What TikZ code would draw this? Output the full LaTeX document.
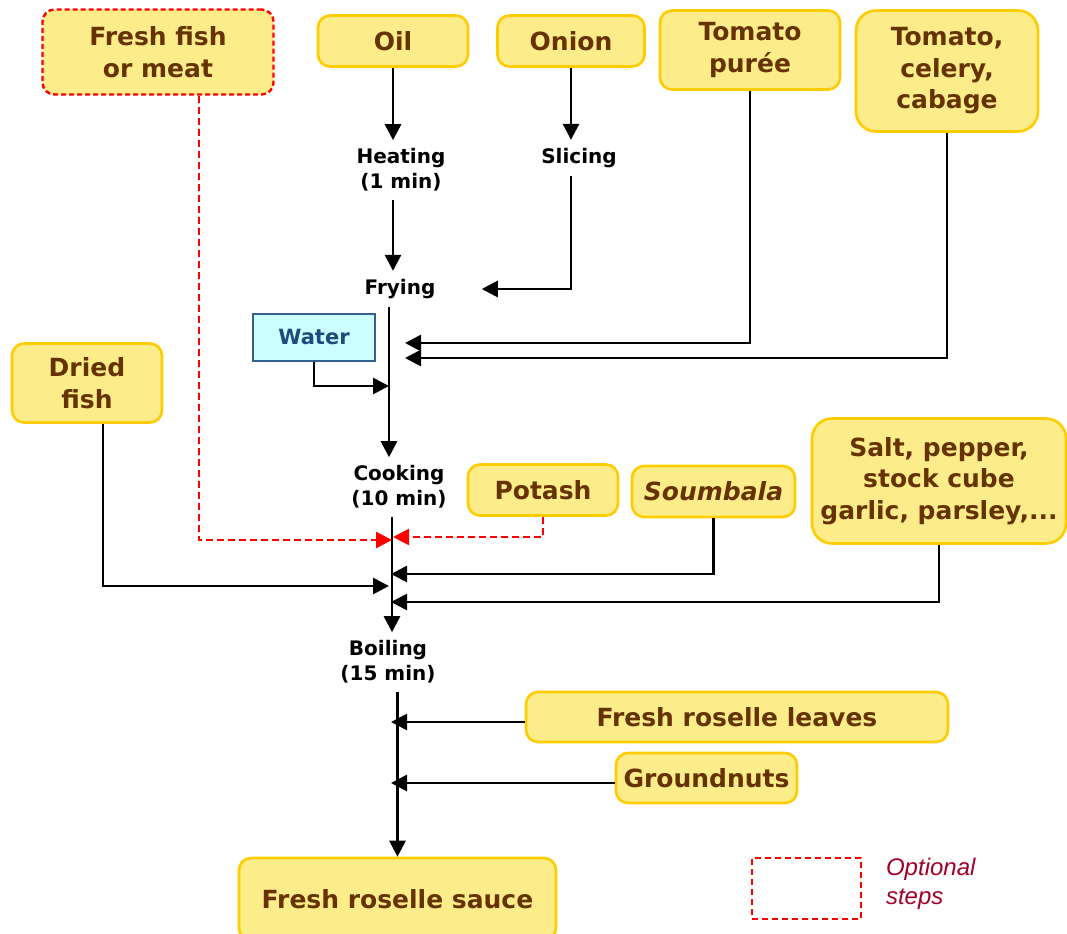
\documentclass[tikz,border=0pt]{standalone}
\usepackage{fontspec}
\setmainfont{DejaVu Sans}
\newfontfamily\notefont{Liberation Sans}
\usetikzlibrary{arrows.meta}
\definecolor{ingfill}{RGB}{252,237,138}
\definecolor{ingline}{RGB}{255,204,0}
\definecolor{ingtext}{RGB}{102,51,0}
\definecolor{waterfill}{RGB}{204,255,255}
\definecolor{waterline}{RGB}{54,96,146}
\definecolor{watertext}{RGB}{31,73,125}
\definecolor{notered}{RGB}{160,0,40}
\begin{document}
\begin{tikzpicture}[x=0.5pt, y=-0.5pt,
    ingr/.style={draw=ingline, fill=ingfill, line width=1.3pt, rounded corners=6pt,
      text=ingtext, align=center, inner sep=2pt,
      font=\bfseries\fontsize{12.5}{15.75}\selectfont},
    optional/.style={ingr, draw=red, line width=1.2pt, dash pattern=on 2.5pt off 1.5pt},
    stage/.style={align=center, inner sep=4pt,
      font=\bfseries\fontsize{10}{12.5}\selectfont},
    flow/.style={line width=1.4pt, -{Triangle[length=8pt,width=8pt]}},
    optflow/.style={red, line width=1.2pt, dash pattern=on 3.5pt off 2pt,
      -{Triangle[length=8pt,width=8pt]}},
  ]
    \useasboundingbox (0,0) rectangle (1067,933);
    % Ingredients on top
    \node[optional, minimum width=115.5pt, minimum height=42.5pt] (fish) at (158,52) {Fresh fish\\or meat};
    \node[ingr, minimum width=75pt, minimum height=25.5pt] (oil) at (393,41) {Oil};
    \node[ingr, minimum width=73.5pt, minimum height=25.5pt] (onion) at (571,41) {Onion};
    \node[ingr, minimum width=90pt, minimum height=39.5pt] (puree) at (750,50) {Tomato\\purée};
    \node[ingr, rounded corners=10pt, minimum width=91pt, minimum height=60.5pt] (tcc) at (947,71) {Tomato,\\celery,\\cabage};
    % Steps
    \node[stage] (heat) at (401,170) {Heating\\(1 min)};
    \node[stage] (slice) at (579,158) {Slicing};
    \node[stage] (fry) at (400,289) {Frying};
    \node[stage] (cook) at (399,487) {Cooking\\(10 min)};
    \node[stage] (boil) at (388,662) {Boiling\\(15 min)};
    % Water
    \node[draw=waterline, fill=waterfill, line width=1pt, text=watertext,
      font=\bfseries\fontsize{10.5}{12}\selectfont,
      minimum width=61pt, minimum height=23.5pt] (water) at (314,337) {Water};
    % Ingredients added while cooking
    \node[ingr, minimum width=75pt, minimum height=39.5pt] (dried) at (87,383) {Dried\\fish};
    \node[ingr, minimum width=75pt, minimum height=25.5pt] (potash) at (543,490) {Potash};
    \node[ingr, minimum width=81.5pt, minimum height=25.5pt] (soum) at (713.5,491.5) {\textit{Soumbala}};
    \node[ingr, rounded corners=10pt, minimum width=127pt, minimum height=62.5pt] (salt) at (939,481) {Salt, pepper,\\stock cube\\garlic, parsley,...};
    \node[ingr, minimum width=211pt, minimum height=25pt] (leaves) at (737,717) {Fresh roselle leaves};
    \node[ingr, minimum width=90.5pt, minimum height=25pt] (ground) at (706.5,778) {Groundnuts};
    % Final product
    \node[ingr, minimum width=158.5pt, minimum height=41pt] (sauce) at (397.5,899) {Fresh roselle sauce};
    % Legend
    \node[draw=red, line width=1.1pt, dash pattern=on 3pt off 2pt,
      minimum width=54.5pt, minimum height=30.5pt] (legbox) at (806.5,888.5) {};
    \node[right, align=left, text=notered,
      font=\notefont\itshape\fontsize{12}{14.5}\selectfont] (legtext) at (879,884) {Optional\\steps};
    % Junctions on the main line
    \coordinate (jpuree) at (405,343);
    \coordinate (jtcc) at (405,358);
    \coordinate (jwater) at (389,386);
    \coordinate (jfish) at (392,540);
    \coordinate (jpotash) at (393,537);
    \coordinate (jsoum) at (391,574);
    \coordinate (jdried) at (389,586);
    \coordinate (jsalt) at (391,602);
    \coordinate (jleaves) at (391,722);
    \coordinate (jground) at (391,783);
    % Main line
    \draw[flow] (oil.south) -- (oil.south |- heat.north);
    \draw[flow] (heat.south -| oil.south) -- (oil.south |- fry.north);
    \draw[flow] (onion.south) -- (onion.south |- slice.north);
    \draw[flow, shorten >=19pt] (onion.south |- slice.south) |- (fry.east);
    \draw[flow] ([xshift=-5.5pt]fry.south) -- ([xshift=-5.5pt]fry.south |- cook.north);
    \draw[flow] ([xshift=-3.5pt]cook.south) -- ([xshift=-3.5pt]cook.south |- boil.north);
    \draw[flow] (boil.south -| sauce.north) -- (sauce.north);
    % Side inputs
    \draw[flow] (puree.south) |- (jpuree);
    \draw[flow] (tcc.south) |- (jtcc);
    \draw[flow] (water.south) |- (jwater);
    \draw[optflow] ([xshift=20.5pt]fish.south) |- (jfish);
    \draw[optflow] (potash.south) |- (jpotash);
    \draw[flow] (soum.south) |- (jsoum);
    \draw[flow] ([xshift=8pt]dried.south) |- (jdried);
    \draw[flow] (salt.south) |- (jsalt);
    \draw[flow] (leaves.west |- jleaves) -- (jleaves);
    \draw[flow] (ground.west |- jground) -- (jground);
\end{tikzpicture}
\end{document}
